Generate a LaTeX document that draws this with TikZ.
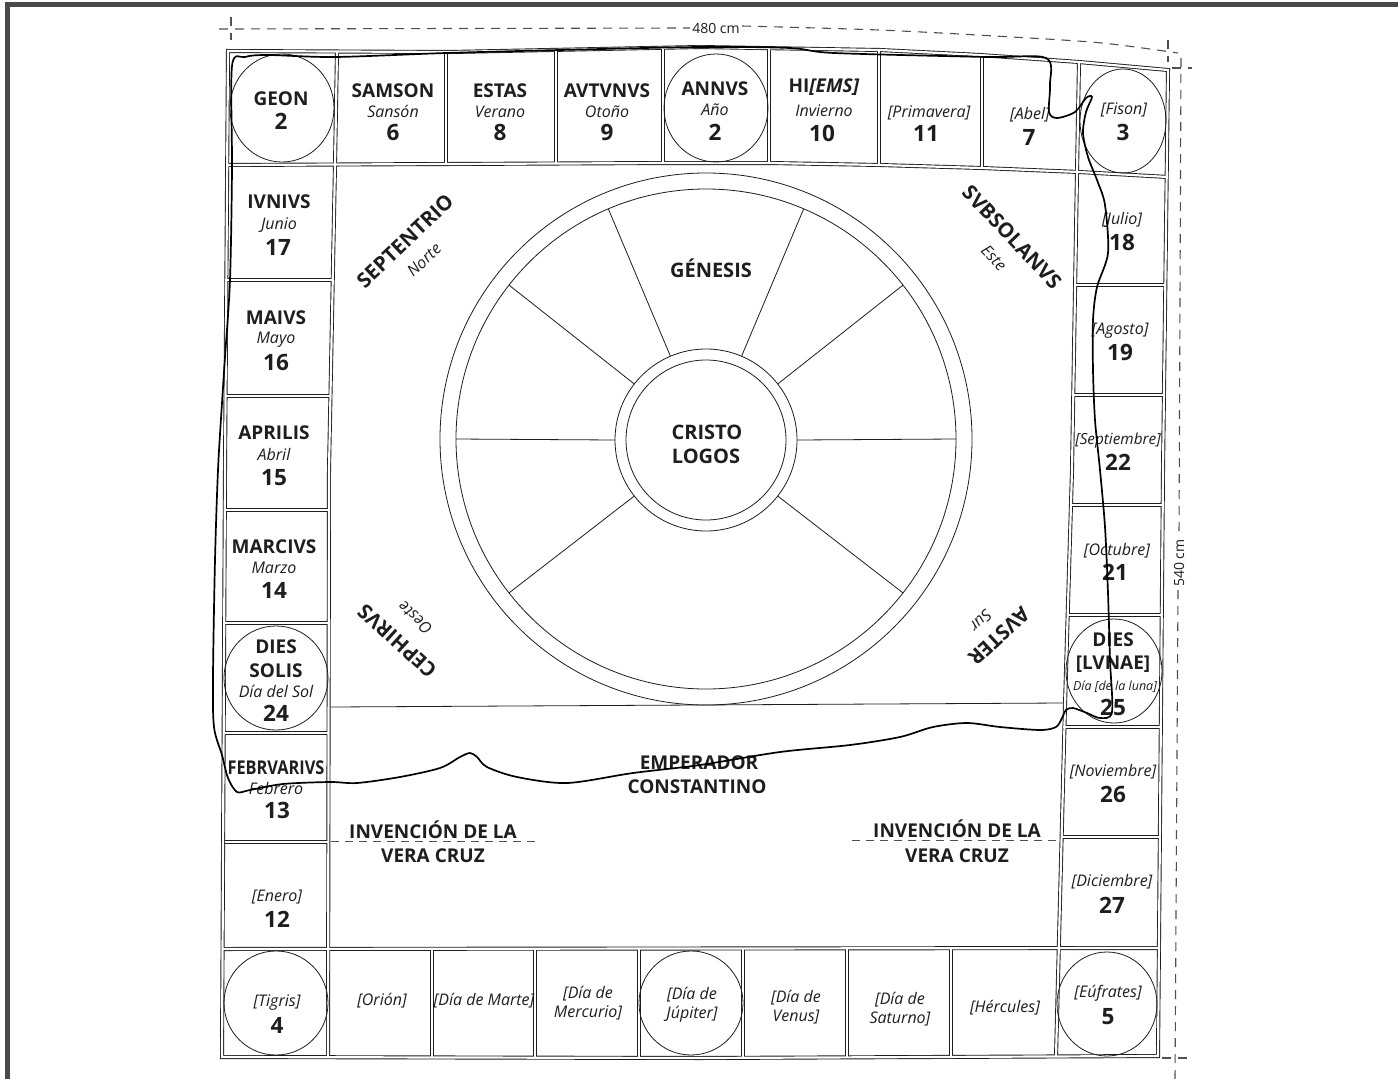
\documentclass[tikz,border=0pt]{standalone}
\usepackage{fontspec}
\setmainfont{Open Sans}
\definecolor{ink}{HTML}{1E1E1E}
\definecolor{framegray}{HTML}{4A4A4A}
\definecolor{dimgray}{HTML}{505050}
\newcommand\BoardPaths[1]{%
 \draw[#1] (228,51) -- (450,52) -- (700,47) -- (880,50) -- (980,55) -- (1079,62) -- (1168,70) -- (1163,470) -- (1158,1056) -- (700,1058) -- (222,1057) -- (225,470) -- cycle;
 \draw[#1] (228,165) -- (669,163) -- (770,163) -- (880,165) -- (982,168) -- (1079,172) -- (1168,177);
 \draw[#1] (222,949) -- (1158,948);
 \draw[#1] (337,51) -- (335,165) -- (329,470) -- (328,1057);
 \draw[#1] (1079,62) -- (1077,172) -- (1072,470) -- (1065,705) -- (1056,1057);
 \foreach \x/\t/\b in {446/52/164, 556/50/164, 663/48/163, 769/48/163, 879/50/165, 982/55/168} {\draw[#1] (\x,\t) -- (\x,\b);}
 \foreach \y/\r in {280/333, 396/331, 510/329, 623/329, 733/329, 842/328} {\draw[#1] (225,\y) -- (\r,\y);}
 \foreach \y/\l/\r in {285/1076/1166, 395/1073/1164, 505/1071/1163, 615/1068/1162, 727/1063/1161, 837/1061/1160} {\draw[#1] (\l,\y) -- (\r,\y);}
 \foreach \x in {432,535,639,743,847,951} {\draw[#1] (\x,949) -- (\x,1057);}
}
\tikzset{
 labcap/.style={anchor=base, inner sep=0pt, text=ink, font=\fontsize{19}{20}\selectfont\bfseries},
 labit/.style={anchor=base, inner sep=0pt, text=ink, font=\fontsize{16}{17}\selectfont\itshape},
 labsmall/.style={anchor=base, inner sep=0pt, text=ink, font=\fontsize{12.5}{14}\selectfont\itshape},
 labnum/.style={anchor=base, inner sep=0pt, text=ink, font=\fontsize{22.5}{24}\selectfont\bfseries},
 labbig/.style={anchor=base, inner sep=0pt, text=ink, font=\fontsize{20}{22}\selectfont\bfseries},
 wind/.style={anchor=center, inner sep=0pt, text=ink, font=\fontsize{20.5}{22}\selectfont\bfseries},
 windit/.style={anchor=center, inner sep=0pt, text=ink, font=\fontsize{16}{17}\selectfont\itshape},
 thinline/.style={draw=ink, line width=0.8pt},
 dimline/.style={draw=dimgray, line width=1.1pt, dash pattern=on 9pt off 7pt},
 freeline/.style={draw=black, line width=1.7pt, line join=round},
}
\begin{document}
\begin{tikzpicture}[x=1pt,y=-1pt]
\useasboundingbox (0,0) rectangle (1398,1079);
\fill[white] (0,0) rectangle (1398,1079);
% frame bars
\fill[framegray] (5,2) rectangle (1398,7);
\fill[framegray] (5,2) rectangle (10,1079);

% dimension lines
\draw[dimline] (219,29) -- (690,28);
\draw[dimline] plot[smooth] coordinates {(742,26) (879,30) (1012,37) (1102,43) (1178,53)};
\draw[dimline] (231,17) -- (231,40);
\draw[dimline] (1168,40) -- (1168,62);
\draw[dimline] (1172,68) -- (1192,68);
\draw[dimline] (1181,58) -- (1179,536);
\draw[dimline] (1178,590) -- (1175,1079);
\draw[dimline] (1162,1058) -- (1188,1058);
\node[anchor=center, text=ink, font=\fontsize{14}{15}\selectfont] (dimw) at (716,28) {480 cm};
\node[anchor=center, text=ink, rotate=90, font=\fontsize{14}{15}\selectfont] (dimh) at (1179,563) {540 cm};

% board double lines
\BoardPaths{draw=ink, line width=4.0pt}
\BoardPaths{draw=white, line width=2.2pt}

% separator
\draw[thinline] (331,707) -- (1063,703);

% circles in cells
\draw[thinline] (282,108) ellipse [x radius=52, y radius=54];
\draw[thinline] (716,108) ellipse [x radius=52, y radius=54];
\draw[thinline] (1123,121) ellipse [x radius=43, y radius=52];
\draw[thinline] (276,678) circle [radius=52];
\draw[thinline] (1114,671) ellipse [x radius=48, y radius=52];
\draw[thinline] (276,1003) circle [radius=52];
\draw[thinline] (691,1003) circle [radius=52];
\draw[thinline] (1107,1004) ellipse [x radius=50, y radius=52];

% wheel
\draw[thinline] (706,439) circle [radius=266];
\draw[thinline] (706,439) circle [radius=250];
\draw[thinline] (706,440) circle [radius=91];
\draw[thinline] (706,440) circle [radius=80];
\foreach \a in {0,38,67,113,142,180,218,322}
  \draw[thinline] ({706+91*cos(\a)},{440-91*sin(\a)}) -- ({706+250*cos(\a)},{439-250*sin(\a)});

% top row
\node[labcap] (geon) at (281,105) {GEON};
\node[labnum] (geonN) at (281,129) {2};
\node[labcap] (samson) at (393,97) {SAMSON};
\node[labit] (sanson) at (393,117) {Sansón};
\node[labnum] (n6) at (393,140) {6};
\node[labcap] (estas) at (500,97) {ESTAS};
\node[labit] (verano) at (500,117) {Verano};
\node[labnum] (n8) at (500,140) {8};
\node[labcap] (autumn) at (607,97) {AVTVNVS};
\node[labit] (otono) at (607,117) {Otoño};
\node[labnum] (n9) at (607,140) {9};
\node[labcap] (annus) at (715,95) {ANNVS};
\node[labit] (ano) at (715,115) {Año};
\node[labnum] (n2b) at (715,140) {2};
\node[labcap] (hiems) at (824,92) {HI\textit{[EMS]}};
\node[labit] (invierno) at (824,116) {Invierno};
\node[labnum] (n10) at (822,141) {10};
\node[labit] (primavera) at (929,117) {[Primavera]};
\node[labnum] (n11) at (926,141) {11};
\node[labit] (abel) at (1030,119) {[Abel]};
\node[labnum] (n7) at (1029,145) {7};
\node[labit] (fison) at (1124,114) {[Fison]};
\node[labnum] (n3) at (1123,140) {3};

% left column
\node[labcap] (iunius) at (279,208) {IVNIVS};
\node[labit] (junio) at (279,229) {Junio};
\node[labnum] (n17) at (278,255) {17};
\node[labcap] (maius) at (276,324) {MAIVS};
\node[labit] (mayo) at (276,343) {Mayo};
\node[labnum] (n16) at (276,370) {16};
\node[labcap] (aprilis) at (274,439) {APRILIS};
\node[labit] (abril) at (274,460) {Abril};
\node[labnum] (n15) at (274,485) {15};
\node[labcap] (marcius) at (274,553) {MARCIVS};
\node[labit] (marzo) at (274,573) {Marzo};
\node[labnum] (n14) at (274,598) {14};
\node[labcap] (dies1) at (276,653) {DIES};
\node[labcap] (solis) at (276,677) {SOLIS};
\node[labit] (diasol) at (276,697) {Día del Sol};
\node[labnum] (n24) at (276,721) {24};
\node[labcap, xscale=0.86] (febr) at (276,774) {FEBRVARIVS};
\node[labit] (febrero) at (276,794) {Febrero};
\node[labnum] (n13) at (277,818) {13};
\node[labit] (enero) at (277,901) {[Enero]};
\node[labnum] (n12) at (277,927) {12};
\node[labit] (tigris) at (277,1006) {[Tigris]};
\node[labnum] (n4) at (277,1033) {4};

% right column
\node[labit] (julio) at (1122,224) {[Julio]};
\node[labnum] (n18) at (1122,250) {18};
\node[labit] (agosto) at (1120,334) {[Agosto]};
\node[labnum] (n19) at (1120,360) {19};
\node[labit, font=\fontsize{15.3}{16}\selectfont\itshape] (sept) at (1118,444) {[Septiembre]};
\node[labnum] (n22) at (1118,470) {22};
\node[labit] (oct) at (1117,555) {[Octubre]};
\node[labnum] (n21) at (1115,580) {21};
\node[labcap] (dies2) at (1113,646) {DIES};
\node[labcap] (lunae) at (1113,669) {[LVNAE]};
\node[labsmall] (dialuna) at (1115,690) {Día [de la luna]};
\node[labnum] (n25) at (1113,715) {25};
\node[labit] (nov) at (1113,776) {[Noviembre]};
\node[labnum] (n26) at (1113,802) {26};
\node[labit] (dic) at (1112,886) {[Diciembre]};
\node[labnum] (n27) at (1112,913) {27};
\node[labit] (eufrates) at (1108,997) {[Eúfrates]};
\node[labnum] (n5) at (1108,1024) {5};

% bottom row
\node[labit] (orion) at (382,1005) {[Orión]};
\node[labit] (marte) at (484,1005) {[Día de Marte]};
\node[labit] (merc1) at (588,998) {[Día de};
\node[labit] (merc2) at (588,1017) {Mercurio]};
\node[labit] (jup1) at (692,999) {[Día de};
\node[labit] (jup2) at (692,1018) {Júpiter]};
\node[labit] (ven1) at (796,1002) {[Día de};
\node[labit] (ven2) at (796,1021) {Venus]};
\node[labit] (sat1) at (900,1004) {[Día de};
\node[labit] (sat2) at (900,1023) {Saturno]};
\node[labit] (herc) at (1005,1012) {[Hércules]};

% centre texts
\node[labbig] (genesis) at (711,277) {GÉNESIS};
\node[labbig] (cristo) at (707,439) {CRISTO};
\node[labbig] (logos) at (706,463) {LOGOS};
\node[labcap] (emp1) at (699,769) {EMPERADOR};
\node[labcap] (emp2) at (697,793) {CONSTANTINO};
\node[labcap] (inv1) at (433,838) {INVENCIÓN DE LA};
\node[labcap] (inv2) at (433,862) {VERA CRUZ};
\node[labcap] (inv3) at (957,837) {INVENCIÓN DE LA};
\node[labcap] (inv4) at (957,862) {VERA CRUZ};
\draw[draw=dimgray, line width=0.9pt, dash pattern=on 8pt off 6pt] (331,841) -- (540,841);
\draw[draw=dimgray, line width=0.9pt, dash pattern=on 8pt off 6pt] (852,840) -- (1060,840);

% winds
\node[wind, rotate=43.5] (sept1) at (405,241) {SEPTENTRIO};
\node[windit, rotate=43.5] (norte) at (424,260) {Norte};
\node[wind, rotate=-46.5] (subsol) at (1012,237) {SVBSOLANVS};
\node[windit, rotate=-46.5] (este) at (994,258) {Este};
\node[wind, rotate=137.7] (ceph) at (397,641) {CEPHIRVS};
\node[windit, rotate=137.7] (oeste) at (415,618) {Oeste};
\node[wind, rotate=-137] (auster) at (999,636) {AVSTER};
\node[windit, rotate=-137] (sur) at (981,621) {Sur};

% freehand outline
\draw[freeline] plot[smooth cycle, tension=0.5] coordinates {
 (268,55) (335,57) (446,53) (560,50) (700,47) (790,48) (834,53) (986,57) (1046,58)
 (1050,85) (1049,112) (1057,118) (1075,112) (1086,98) (1092,97) (1086,112) (1083,133)
 (1088,157) (1097,180) (1105,205) (1108,253) (1097,287) (1093,320) (1093,370) (1095,420)
 (1100,470) (1105,527) (1108,593) (1110,660) (1112,712) (1100,718) (1087,713) (1073,708)
 (1066,710) (1062,718) (1056,727) (1040,730) (1000,727) (967,723) (933,727) (900,737)
 (850,745) (780,752) (700,765) (633,773) (567,783) (517,777) (487,767) (477,757)
 (470,753) (460,757) (440,768) (400,777) (357,783) (330,782) (283,784) (250,790)
 (237,792) (228,778) (222,755) (214,727) (213,677) (215,560) (218,470) (222,403)
 (225,357) (230,280) (232,170) (232,66) (245,57)};
\end{tikzpicture}
\end{document}
